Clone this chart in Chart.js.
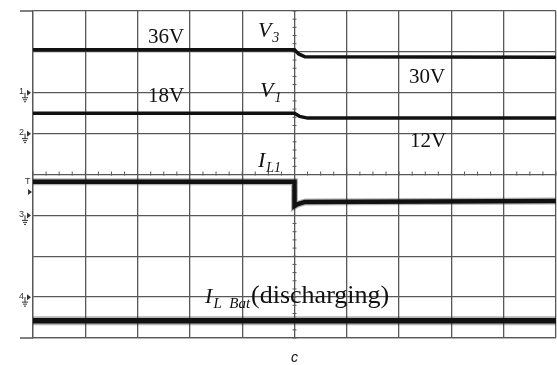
<!DOCTYPE html>
<html>
  <head>
    <meta charset="utf-8">
    <script src="https://cdn.jsdelivr.net/npm/chart.js@4.4.0/dist/chart.umd.min.js"></script>
    <style>
      body { margin: 0; background: #fff; }
    </style>
  </head>
  <body>
    <canvas id="scopeChart" width="557" height="365"></canvas>

    <script>
      // scope screen: 10 time divisions across, 8 divisions high
      var tV3 = [0, 5, 5.08, 5.2, 10];
      var v3 = [7.05, 7.05, 6.95, 6.88, 6.87];
      var tV1 = [0, 5, 5.1, 5.25, 10];
      var v1 = [5.50, 5.50, 5.42, 5.38, 5.38];
      var tIL1 = [0, 5, 5.0, 5.05, 5.2, 10];
      var iL1 = [3.82, 3.82, 3.23, 3.27, 3.33, 3.35];
      var tBat = [0, 10];
      var iBat = [0.42, 0.42];

      var channelLevels = [6, 5, 3, 1];
      var channelNames = ['1', '2', '3', '4'];

      function pts(xs, ys) {
        return xs.map(function (x, i) { return {x: x, y: ys[i]}; });
      }

      // text on the screen: x = left edge, y = baseline (in divisions)
      var serif = '"Liberation Serif", "Times New Roman", serif';
      var notes = [
        {x: 2.20, y: 7.22, parts: [{t: '36V', size: 21}]},
        {x: 4.30, y: 7.36, parts: [{t: 'V', size: 22, it: true}, {t: '3', size: 14, it: true, dy: 5}]},
        {x: 7.19, y: 6.24, parts: [{t: '30V', size: 21}]},
        {x: 2.20, y: 5.77, parts: [{t: '18V', size: 21}]},
        {x: 4.34, y: 5.90, parts: [{t: 'V', size: 22, it: true}, {t: '1', size: 14, it: true, dy: 5}]},
        {x: 7.21, y: 4.67, parts: [{t: '12V', size: 21}]},
        {x: 4.30, y: 4.18, parts: [{t: 'I', size: 22, it: true}, {t: 'L1', size: 14, it: true, dy: 5}]},
        {x: 3.29, y: 0.86, parts: [{t: 'I', size: 22, it: true}, {t: 'L  Bat', size: 15, it: true, dy: 5}, {t: '(discharging)', size: 26}]}
      ];

      var gridColor = '#585858';

      var scopePlugin = {
        id: 'scope',
        beforeDatasetsDraw: function (chart) {
          var c = chart.ctx, a = chart.chartArea;
          var xs = chart.scales.x, ys = chart.scales.y;
          c.save();
          c.strokeStyle = gridColor;
          c.lineWidth = 1.3;
          // frame lines run out past the left edge
          c.beginPath();
          c.moveTo(20, a.top); c.lineTo(a.left, a.top);
          c.moveTo(20, a.bottom); c.lineTo(a.left, a.bottom);
          c.stroke();
          // minor ticks on the centre cross
          var cx = xs.getPixelForValue(5), cy = ys.getPixelForValue(4);
          c.lineWidth = 1;
          c.beginPath();
          for (var i = 0; i <= 40; i++) {
            var px = xs.getPixelForValue(i / 4);
            c.moveTo(px, cy - 3); c.lineTo(px, cy + 1);
          }
          for (var j = 0; j <= 40; j++) {
            var py = ys.getPixelForValue(j / 5);
            c.moveTo(cx - 2, py); c.lineTo(cx + 2, py);
          }
          c.stroke();
          // channel markers on the left
          c.fillStyle = '#333';
          c.strokeStyle = '#333';
          c.lineWidth = 1;
          c.font = '9px "Liberation Sans", Arial, sans-serif';
          c.textBaseline = 'middle';
          channelLevels.forEach(function (lv, k) {
            var y = ys.getPixelForValue(lv);
            c.fillText(channelNames[k], 19, y - 1);
            c.beginPath();
            c.moveTo(27, y - 3); c.lineTo(31, y); c.lineTo(27, y + 3); c.closePath(); c.fill();
            c.beginPath();
            c.moveTo(25, y); c.lineTo(25, y + 5);
            c.moveTo(22, y + 5); c.lineTo(28, y + 5);
            c.moveTo(23, y + 7); c.lineTo(27, y + 7);
            c.moveTo(24, y + 9); c.lineTo(26, y + 9);
            c.stroke();
          });
          var ty = ys.getPixelForValue(3.82), ay = ys.getPixelForValue(3.57);
          c.fillText('T', 25, ty);
          c.beginPath();
          c.moveTo(28, ay - 3); c.lineTo(32, ay); c.lineTo(28, ay + 3); c.closePath(); c.fill();
          c.restore();
        },
        afterDatasetsDraw: function (chart) {
          var c = chart.ctx;
          var xs = chart.scales.x, ys = chart.scales.y;
          c.save();
          c.fillStyle = '#111';
          c.textBaseline = 'alphabetic';
          notes.forEach(function (n) {
            var px = xs.getPixelForValue(n.x), py = ys.getPixelForValue(n.y);
            n.parts.forEach(function (p) {
              px += p.gap || 0;
              c.font = (p.it ? 'italic ' : '') + p.size + 'px ' + serif;
              c.fillText(p.t, px, py + (p.dy || 0));
              px += c.measureText(p.t).width + 1;
            });
          });
          c.font = 'italic 14px "Liberation Sans", Arial, sans-serif';
          c.textAlign = 'center';
          c.fillText('c', xs.getPixelForValue(5), 362);
          c.restore();
        }
      };

      var haze = 'rgba(40, 40, 40, 0.35)';
      var ctx = document.getElementById('scopeChart').getContext('2d');
      var scopeChart = new Chart(ctx, {
        type: 'line',
        data: {
          datasets: [
            {label: 'V3', data: pts(tV3, v3), borderColor: '#111', borderWidth: 3.5},
            {label: 'V1', data: pts(tV1, v1), borderColor: '#111', borderWidth: 3.5},
            {label: 'IL1', data: pts(tIL1, iL1), borderColor: '#111', borderWidth: 4.5},
            {label: 'IL1 noise', data: pts(tIL1, iL1), borderColor: haze, borderWidth: 7},
            {label: 'IL_Bat', data: pts(tBat, iBat), borderColor: '#111', borderWidth: 5.5},
            {label: 'IL_Bat noise', data: pts(tBat, iBat), borderColor: haze, borderWidth: 9}
          ]
        },
        options: {
          responsive: false,
          devicePixelRatio: 1,
          animation: false,
          layout: {padding: {left: 33, top: 11, right: 1, bottom: 27}},
          elements: {point: {radius: 0}, line: {tension: 0}},
          plugins: {legend: {display: false}, tooltip: {enabled: false}},
          scales: {
            x: {
              type: 'linear', min: 0, max: 10,
              ticks: {display: false, stepSize: 1},
              grid: {color: gridColor, lineWidth: 1.3, drawTicks: false},
              border: {color: gridColor, width: 1.3}
            },
            y: {
              type: 'linear', min: 0, max: 8,
              ticks: {display: false, stepSize: 1},
              grid: {color: gridColor, lineWidth: 1.3, drawTicks: false},
              border: {color: gridColor, width: 1.3}
            }
          }
        },
        plugins: [scopePlugin]
      });
    </script>
  </body>
</html>
